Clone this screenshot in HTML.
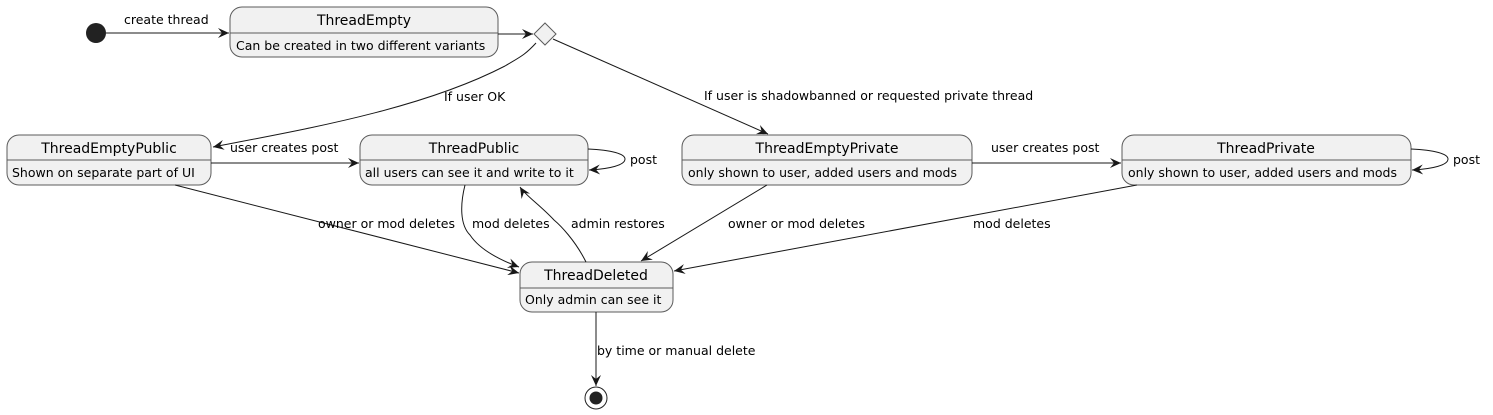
<!DOCTYPE html>
<html><head><style>
body{margin:0;background:#fff}
svg{display:block;font-family:"DejaVu Sans","Liberation Sans",sans-serif}
.b{fill:#f1f1f1;stroke:#5b5b5b;stroke-width:1}
.t{font-size:14px;fill:#000;text-anchor:middle}
.s{font-size:12.5px;fill:#000}
.l{font-size:12.5px;fill:#000}
.e{fill:none;stroke:#181818;stroke-width:1}
</style></head><body>
<svg width="1493" height="415" viewBox="0 0 1493 415">
<defs><marker id="a" viewBox="0 0 12 10" refX="11" refY="5" markerWidth="12" markerHeight="10" orient="auto" markerUnits="userSpaceOnUse"><path d="M0,0 L11,5 L0,10 L4,5 Z" fill="#181818"/></marker></defs>
<circle cx="96" cy="33" r="10" fill="#222"/>
<rect class="b" x="230" y="7" width="268" height="50" rx="12"/><line x1="230" y1="33" x2="498" y2="33" stroke="#5b5b5b"/>
<text class="t" x="364" y="25">ThreadEmpty</text><text class="s" x="236" y="50">Can be created in two different variants</text>
<polygon points="545,23 556,34 545,45 534,34" fill="#f1f1f1" stroke="#5b5b5b"/>
<rect class="b" x="7" y="135" width="204" height="50" rx="12"/><line x1="7" y1="160" x2="211" y2="160" stroke="#5b5b5b"/>
<text class="t" x="109" y="153">ThreadEmptyPublic</text><text class="s" x="12" y="177">Shown on separate part of UI</text>
<rect class="b" x="360" y="135" width="228" height="50" rx="12"/><line x1="360" y1="160" x2="588" y2="160" stroke="#5b5b5b"/>
<text class="t" x="474" y="153">ThreadPublic</text><text class="s" x="365" y="177">all users can see it and write to it</text>
<rect class="b" x="682" y="135" width="290" height="50" rx="12"/><line x1="682" y1="160" x2="972" y2="160" stroke="#5b5b5b"/>
<text class="t" x="827" y="153">ThreadEmptyPrivate</text><text class="s" x="688" y="177">only shown to user, added users and mods</text>
<rect class="b" x="1122" y="135" width="289" height="50" rx="12"/><line x1="1122" y1="160" x2="1411" y2="160" stroke="#5b5b5b"/>
<text class="t" x="1266" y="153">ThreadPrivate</text><text class="s" x="1128" y="177">only shown to user, added users and mods</text>
<rect class="b" x="520" y="262" width="153" height="50" rx="12"/><line x1="520" y1="288" x2="673" y2="288" stroke="#5b5b5b"/>
<text class="t" x="596" y="280">ThreadDeleted</text><text class="s" x="525" y="304">Only admin can see it</text>
<circle cx="596" cy="398" r="11" fill="#fff" stroke="#222" stroke-width="1"/><circle cx="596" cy="398" r="6.5" fill="#222"/>
<line class="e" x1="106" y1="33" x2="229" y2="33" marker-end="url(#a)"/>
<text class="l" x="124" y="24">create thread</text>
<line class="e" x1="498" y1="34" x2="533" y2="34" marker-end="url(#a)"/>
<path class="e" d="M536,43 C525,55 520,57 505,66 C420,110 300,130 213,147" marker-end="url(#a)"/>
<text class="l" x="444" y="101">If user OK</text>
<line class="e" x1="553" y1="39" x2="768" y2="134" marker-end="url(#a)"/>
<text class="l" x="704" y="100">If user is shadowbanned or requested private thread</text>
<line class="e" x1="211" y1="163" x2="359" y2="163" marker-end="url(#a)"/>
<text class="l" x="230" y="152">user creates post</text>
<line class="e" x1="972" y1="163" x2="1121" y2="163" marker-end="url(#a)"/>
<text class="l" x="991" y="152">user creates post</text>
<path class="e" d="M588,149 C612,150 625,154 625,159 C625,165 610,169 589,170" marker-end="url(#a)"/>
<text class="l" x="630" y="164">post</text>
<path class="e" d="M1411,149 C1435,150 1448,154 1448,159 C1448,165 1433,169 1412,170" marker-end="url(#a)"/>
<text class="l" x="1453" y="164">post</text>
<line class="e" x1="175" y1="185" x2="519" y2="273" marker-end="url(#a)"/>
<text class="l" x="318" y="228">owner or mod deletes</text>
<path class="e" d="M465,185 C460,205 460,225 470,235 C480,250 500,260 519,267" marker-end="url(#a)"/>
<text class="l" x="472" y="228">mod deletes</text>
<path class="e" d="M586,262 C575,240 560,225 554,220 C540,205 525,195 520,187" marker-end="url(#a)"/>
<text class="l" x="571" y="228">admin restores</text>
<line class="e" x1="767" y1="185" x2="641" y2="261" marker-end="url(#a)"/>
<text class="l" x="728" y="228">owner or mod deletes</text>
<line class="e" x1="1137" y1="185" x2="674" y2="271" marker-end="url(#a)"/>
<text class="l" x="973" y="228">mod deletes</text>
<line class="e" x1="596" y1="312" x2="596" y2="386" marker-end="url(#a)"/>
<text class="l" x="597" y="355">by time or manual delete</text>
</svg>
</body></html>
